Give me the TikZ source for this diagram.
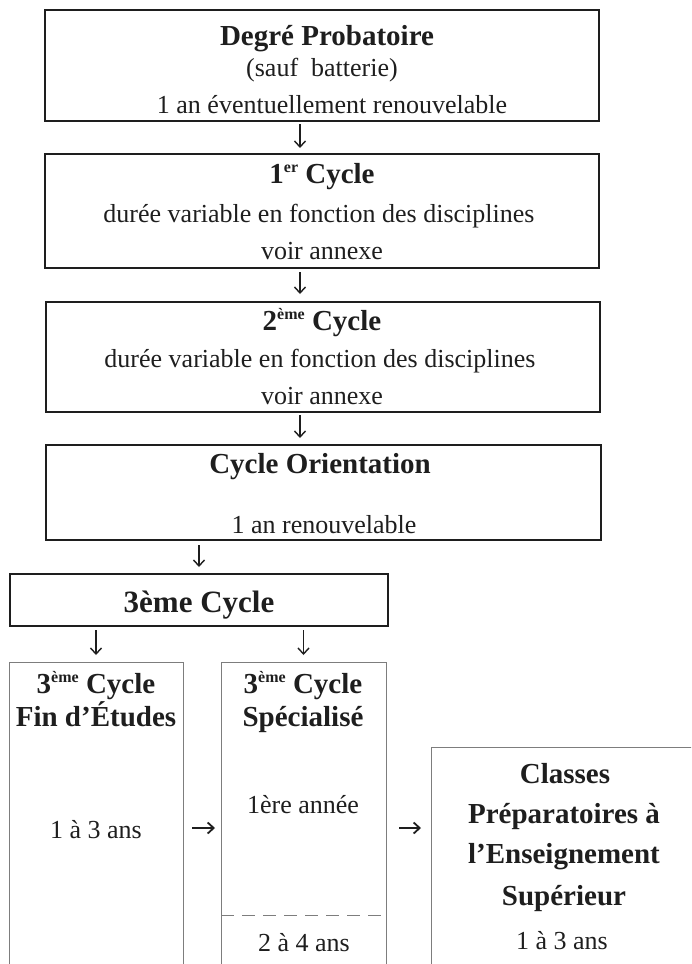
\documentclass[tikz,border=0pt]{standalone}
\usepackage{fontspec}
\setmainfont{Liberation Serif}
\usepackage{tikz}
\usetikzlibrary{arrows.meta}
\usepackage{xcolor}
\definecolor{inkgray}{RGB}{30,30,30}
\definecolor{framegray}{RGB}{125,125,125}
\newcommand{\exposant}[1]{\raisebox{11pt}{\fontsize{16}{16}\selectfont #1}}

\begin{document}
\begin{tikzpicture}[x=1pt,y=-1pt,
  bigbox/.style={draw=inkgray, line width=2.3pt, inner sep=0pt, outer sep=0pt},
  colbox/.style={draw=framegray, line width=1pt, inner sep=0pt, outer sep=0pt},
  txt/.style={anchor=base, inner sep=0pt, text=inkgray, font=\fontsize{26}{30}\selectfont},
  ttl/.style={txt, font=\fontsize{29}{34}\selectfont\bfseries},
  arr/.style={-{Straight Barb[length=6pt,width=11pt]}, line width=1.4pt, inkgray}]
\useasboundingbox (0,0) rectangle (691,964);
\clip (0,0) rectangle (691,964);

% Upper chain of boxes
\node[bigbox, minimum width=554, minimum height=111] (deg) at (322,65.5) {};
\node[ttl] (deg-title) at (327,45) {Degré Probatoire};
\node[txt] (deg-note) at (322,76) {(sauf\ \ batterie)};
\node[txt] (deg-dur) at (332,113) {1 an éventuellement renouvelable};

\node[bigbox, minimum width=554, minimum height=114] (cyc1) at (322,211) {};
\node[ttl] (cyc1-title) at (322,183) {1\exposant{er} Cycle};
\node[txt] (cyc1-dur) at (319,222) {durée variable en fonction des disciplines};
\node[txt] (cyc1-note) at (322,259) {voir annexe};

\node[bigbox, minimum width=554, minimum height=110] (cyc2) at (323,357) {};
\node[ttl] (cyc2-title) at (322,330) {2\exposant{ème} Cycle};
\node[txt] (cyc2-dur) at (320,367) {durée variable en fonction des disciplines};
\node[txt] (cyc2-note) at (322,404) {voir annexe};

\node[bigbox, minimum width=555, minimum height=95] (orient) at (323.5,492.5) {};
\node[ttl] (orient-title) at (320,473) {Cycle Orientation};
\node[txt] (orient-dur) at (324,533) {1 an renouvelable};

\node[bigbox, minimum width=378, minimum height=52] (cyc3) at (199,600) {};
\node[ttl, font=\fontsize{31}{36}\selectfont\bfseries] (cyc3-title) at (199,612) {3ème Cycle};

% Bottom columns (open below)
\node[colbox, minimum width=174, minimum height=330] (fin) at (96,827) {};
\node[ttl] (fin-title) at (96,693) {3\exposant{ème} Cycle};
\node[ttl] (fin-sub) at (96,726) {Fin d’Études};
\node[txt] (fin-dur) at (96,838) {1 à 3 ans};

\node[colbox, minimum width=165, minimum height=330] (spec) at (303.5,827) {};
\node[ttl] (spec-title) at (303,693) {3\exposant{ème} Cycle};
\node[ttl] (spec-sub) at (303,726) {Spécialisé};
\node[txt] (spec-first) at (303,813) {1ère année};
\node[txt] (spec-dur) at (304,951) {2 à 4 ans};

\node[colbox, minimum width=280, minimum height=245] (cpge) at (571,869.5) {};
\node[ttl] (cpge-a) at (565,783) {Classes};
\node[ttl] (cpge-b) at (564,823) {Préparatoires à};
\node[ttl] (cpge-c) at (564,863) {l’Enseignement};
\node[ttl] (cpge-d) at (564,905) {Supérieur};
\node[txt] (cpge-dur) at (562,949) {1 à 3 ans};

% Dashed split in the specialised column
\coordinate (dashrow) at (0,915);
\draw[framegray, line width=1pt, dash pattern=on 13pt off 8pt] (spec.west |- dashrow) -- (spec.east |- dashrow);

% Arrows
\coordinate (vcol) at (300,0);
\draw[arr, shorten <=3pt, shorten >=6pt] (deg.south -| vcol) -- (cyc1.north -| vcol);
\draw[arr, shorten <=4pt, shorten >=8pt] (cyc1.south -| vcol) -- (cyc2.north -| vcol);
\draw[arr, shorten <=3pt, shorten >=7pt] (cyc2.south -| vcol) -- (orient.north -| vcol);
\draw[arr, shorten <=5pt, shorten >=7pt] (orient.south -| cyc3.north) -- (cyc3.north);
\draw[arr, shorten <=4pt, shorten >=7pt] (cyc3.south -| fin.north) -- (fin.north);
\draw[arr, shorten <=4pt, shorten >=7pt] (cyc3.south -| spec.north) -- (spec.north);

\coordinate (hrow) at (0,828);
\draw[arr, line width=1.8pt, shorten <=9pt, shorten >=6pt] (fin.east |- hrow) -- (spec.west |- hrow);
\draw[arr, line width=1.8pt, shorten <=13pt, shorten >=10pt] (spec.east |- hrow) -- (cpge.west |- hrow);
\end{tikzpicture}
\end{document}
